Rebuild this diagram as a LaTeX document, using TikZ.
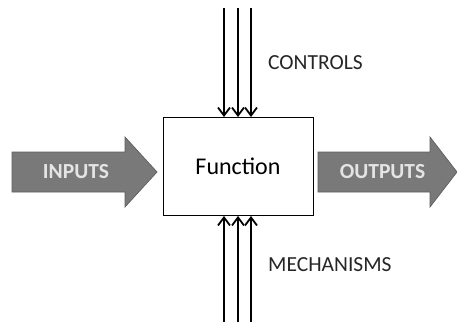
\documentclass[tikz,border=0pt]{standalone}
\usepackage{fontspec}
\setmainfont{Carlito}
\usetikzlibrary{arrows.meta}
\definecolor{arrowgray}{HTML}{797979}
\definecolor{arrowedge}{HTML}{5E5E5E}
\definecolor{labelgray}{HTML}{E4E4E4}
\begin{document}
\begin{tikzpicture}[x=1pt,y=-1pt,
  blockarrow/.style={fill=arrowgray, draw=arrowedge, line width=0.7pt, line join=miter},
  blocktext/.style={text=labelgray, inner sep=0pt, font=\fontsize{21.5}{24}\selectfont\bfseries},
  flow/.style={line width=1.8pt, -{Straight Barb[length=8pt,width=12pt,line width=1.8pt]}},
  label/.style={font=\fontsize{21.5}{24}\selectfont, text=black!85, inner sep=0pt},
  fn/.style={draw, line width=0.9pt, minimum width=150pt, minimum height=98pt, inner sep=0pt,
    font=\fontsize{24}{28}\selectfont}]
  \useasboundingbox (0,0) rectangle (457,324);
  % function box
  \node[fn] (f) at (238,166.5) {Function};
  % controls entering from the top
  \coordinate (c1) at (224,8);
  \coordinate (c2) at (238,8);
  \coordinate (c3) at (251,8);
  \foreach \c in {c1,c2,c3} \draw[flow] (\c) -- (\c |- f.north);
  % mechanisms entering from below
  \coordinate (m1) at (224,322);
  \coordinate (m2) at (238,322);
  \coordinate (m3) at (251,322);
  \foreach \m in {m1,m2,m3} \draw[flow] (\m) -- (\m |- f.south);
  % labels
  \node[label, anchor=west] (ctl) at (268,63) {CONTROLS};
  \node[label, anchor=west] (mech) at (268,265) {MECHANISMS};
  % block arrow for inputs
  \draw[blockarrow] (12,152) -- (125,152) -- (125,137) -- (157,172)
    -- (125,207) -- (125,192) -- (12,192) -- cycle;
  \node[blocktext] (in) at (76,172) {INPUTS};
  % block arrow for outputs
  \draw[blockarrow] (318,152) -- (430,152) -- (430,137) -- (457,172)
    -- (430,207) -- (430,192) -- (318,192) -- cycle;
  \node[blocktext] (out) at (382.5,172) {OUTPUTS};
\end{tikzpicture}
\end{document}
